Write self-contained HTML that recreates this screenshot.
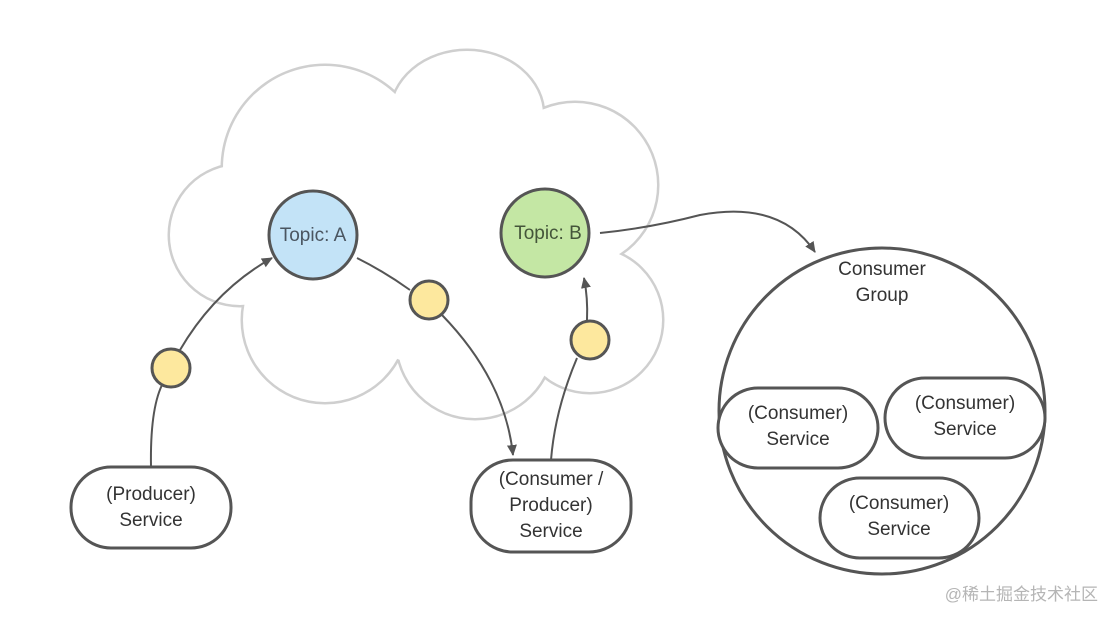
<!DOCTYPE html>
<html><head><meta charset="utf-8"><style>
html,body{margin:0;padding:0;background:#fff;}
svg{display:block;font-family:"Liberation Sans","Noto Sans CJK SC",sans-serif;}
</style></head><body>
<svg width="1117" height="622" viewBox="0 0 1117 622" xmlns="http://www.w3.org/2000/svg">
<defs><marker id="ar" markerWidth="12" markerHeight="12" refX="10" refY="5" orient="auto" markerUnits="userSpaceOnUse"><path d="M0,0 L11,5 L0,10 Z" fill="#555"/></marker></defs>
<g fill="none" stroke="#cfcfcf" stroke-width="5">
<ellipse cx="467" cy="115" rx="76" ry="64"/><circle cx="325" cy="168" r="102"/><circle cx="240" cy="235" r="70"/>
<circle cx="575" cy="185" r="82"/><circle cx="590" cy="320" r="72"/><circle cx="475" cy="340" r="78"/>
<circle cx="325" cy="320" r="82"/><circle cx="450" cy="240" r="130"/>
</g>
<g fill="#fff">
<ellipse cx="467" cy="115" rx="76" ry="64"/><circle cx="325" cy="168" r="102"/><circle cx="240" cy="235" r="70"/>
<circle cx="575" cy="185" r="82"/><circle cx="590" cy="320" r="72"/><circle cx="475" cy="340" r="78"/>
<circle cx="325" cy="320" r="82"/><circle cx="450" cy="240" r="130"/>
</g>
<g fill="none" stroke="#555" stroke-width="2">
<path d="M151,467 Q150,410 162,385"/>
<path d="M180,350 Q215,290 272,258" marker-end="url(#ar)"/>
<path d="M357,258 Q385,272 410,290"/>
<path d="M442,315 Q505,380 513,455" marker-end="url(#ar)"/>
<path d="M551,460 Q555,410 577,358"/>
<path d="M587,320 Q588,298 584,278" marker-end="url(#ar)"/>
<path d="M600,233 Q650,228 700,215 Q780,200 815,252" marker-end="url(#ar)"/>
</g>
<g stroke="#555" stroke-width="3">
<circle cx="313" cy="235" r="44" fill="#c3e3f7"/>
<circle cx="545" cy="233" r="44" fill="#c4e7a4"/>
<circle cx="171" cy="368" r="19" fill="#fde89e"/>
<circle cx="429" cy="300" r="19" fill="#fde89e"/>
<circle cx="590" cy="340" r="19" fill="#fde89e"/>
</g>
<g stroke="#555" stroke-width="3" fill="none">
<circle cx="882" cy="411" r="163"/>
<rect x="71" y="467" width="160" height="81" rx="40"/>
<rect x="471" y="460" width="160" height="92" rx="42"/>
<rect x="718" y="388" width="160" height="80" rx="40" fill="#fff"/>
<rect x="885" y="378" width="160" height="80" rx="40" fill="#fff"/>
<rect x="820" y="478" width="159" height="80" rx="40" fill="#fff"/>
</g>
<g font-size="19" fill="#333" text-anchor="middle">
<text x="313" y="241" fill="#4a5560">Topic: A</text>
<text x="548" y="239" fill="#44553a">Topic: B</text>
<text x="151" y="500">(Producer)</text><text x="151" y="526">Service</text>
<text x="551" y="485">(Consumer /</text><text x="551" y="511">Producer)</text><text x="551" y="537">Service</text>
<text x="882" y="275">Consumer</text><text x="882" y="301">Group</text>
<text x="798" y="419">(Consumer)</text><text x="798" y="445">Service</text>
<text x="965" y="409">(Consumer)</text><text x="965" y="435">Service</text>
<text x="899" y="509">(Consumer)</text><text x="899" y="535">Service</text>
</g>
<text x="1098" y="600" font-size="17" fill="#b5b5b5" text-anchor="end">@稀土掘金技术社区</text>
</svg>
</body></html>
